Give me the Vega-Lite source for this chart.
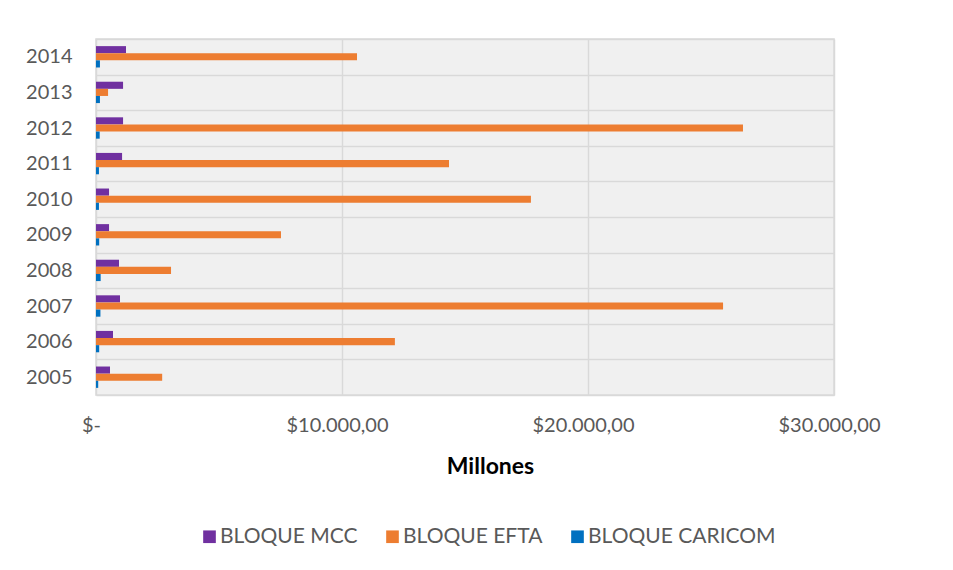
{
  "$schema": "https://vega.github.io/schema/vega-lite/v6.json",
  "width": 738,
  "height": 356,
  "autosize": {"type": "none"},
  "padding": {"left": 96, "top": 39, "right": 119, "bottom": 175},
  "background": "white",
  "config": {
    "font": "Lato",
    "view": {"fill": "#f0f0f0", "stroke": "#d9d9d9", "strokeWidth": 1.5}
  },
  "data": {
    "values": [
      {"year": "2014", "bloque": "BLOQUE MCC", "value": 1220},
      {"year": "2014", "bloque": "BLOQUE EFTA", "value": 10610},
      {"year": "2014", "bloque": "BLOQUE CARICOM", "value": 160},
      {"year": "2013", "bloque": "BLOQUE MCC", "value": 1100},
      {"year": "2013", "bloque": "BLOQUE EFTA", "value": 490},
      {"year": "2013", "bloque": "BLOQUE CARICOM", "value": 160},
      {"year": "2012", "bloque": "BLOQUE MCC", "value": 1100},
      {"year": "2012", "bloque": "BLOQUE EFTA", "value": 26300},
      {"year": "2012", "bloque": "BLOQUE CARICOM", "value": 150},
      {"year": "2011", "bloque": "BLOQUE MCC", "value": 1060},
      {"year": "2011", "bloque": "BLOQUE EFTA", "value": 14350},
      {"year": "2011", "bloque": "BLOQUE CARICOM", "value": 120},
      {"year": "2010", "bloque": "BLOQUE MCC", "value": 530},
      {"year": "2010", "bloque": "BLOQUE EFTA", "value": 17680},
      {"year": "2010", "bloque": "BLOQUE CARICOM", "value": 120},
      {"year": "2009", "bloque": "BLOQUE MCC", "value": 530},
      {"year": "2009", "bloque": "BLOQUE EFTA", "value": 7520},
      {"year": "2009", "bloque": "BLOQUE CARICOM", "value": 130},
      {"year": "2008", "bloque": "BLOQUE MCC", "value": 935},
      {"year": "2008", "bloque": "BLOQUE EFTA", "value": 3050},
      {"year": "2008", "bloque": "BLOQUE CARICOM", "value": 190},
      {"year": "2007", "bloque": "BLOQUE MCC", "value": 975},
      {"year": "2007", "bloque": "BLOQUE EFTA", "value": 25490},
      {"year": "2007", "bloque": "BLOQUE CARICOM", "value": 180},
      {"year": "2006", "bloque": "BLOQUE MCC", "value": 690},
      {"year": "2006", "bloque": "BLOQUE EFTA", "value": 12150},
      {"year": "2006", "bloque": "BLOQUE CARICOM", "value": 130},
      {"year": "2005", "bloque": "BLOQUE MCC", "value": 570},
      {"year": "2005", "bloque": "BLOQUE EFTA", "value": 2690},
      {"year": "2005", "bloque": "BLOQUE CARICOM", "value": 90}
    ]
  },
  "mark": {"type": "bar"},
  "encoding": {
    "y": {
      "field": "year",
      "type": "nominal",
      "sort": "descending",
      "scale": {"paddingInner": 0, "paddingOuter": 0},
      "axis": {
        "title": null,
        "ticks": false,
        "domain": false,
        "grid": true,
        "tickBand": "extent",
        "gridColor": "#d9d9d9",
        "gridWidth": 1.5,
        "labelFontSize": 20,
        "labelColor": "#595959",
        "labelPadding": 24
      }
    },
    "yOffset": {
      "field": "bloque",
      "type": "nominal",
      "sort": ["BLOQUE MCC", "BLOQUE EFTA", "BLOQUE CARICOM"],
      "scale": {"paddingInner": 0, "paddingOuter": 1.05}
    },
    "x": {
      "field": "value",
      "type": "quantitative",
      "scale": {"domain": [0, 30000], "nice": false},
      "axis": {
        "values": [0, 10000, 20000, 30000],
        "labelExpr": "datum.value == 0 ? '$-' : '$' + replace(replace(replace(format(datum.value, ',.2f'), ',', '_'), '.', ','), '_', '.')",
        "title": "Millones",
        "titleFont": "Lato",
        "titleFontSize": 23,
        "titleFontWeight": "bold",
        "titleColor": "#000000",
        "titleX": 394,
        "titlePadding": 20,
        "ticks": false,
        "domain": false,
        "grid": true,
        "gridColor": "#d9d9d9",
        "gridWidth": 1.5,
        "labelFontSize": 20,
        "labelColor": "#595959",
        "labelPadding": 20,
        "labelOffset": -5,
        "labelFlush": false
      }
    },
    "color": {
      "field": "bloque",
      "type": "nominal",
      "sort": ["BLOQUE MCC", "BLOQUE EFTA", "BLOQUE CARICOM"],
      "scale": {
        "domain": ["BLOQUE MCC", "BLOQUE EFTA", "BLOQUE CARICOM"],
        "range": ["#7030A0", "#ED7D31", "#0070C0"]
      },
      "legend": {
        "title": null,
        "orient": "none",
        "direction": "horizontal",
        "legendX": 103,
        "legendY": 487,
        "symbolType": "square",
        "symbolSize": 160,
        "symbolStrokeWidth": 0,
        "labelFontSize": 21,
        "labelLimit": 400,
        "labelColor": "#595959",
        "labelOffset": 0,
        "columnPadding": 24
      }
    }
  }
}
